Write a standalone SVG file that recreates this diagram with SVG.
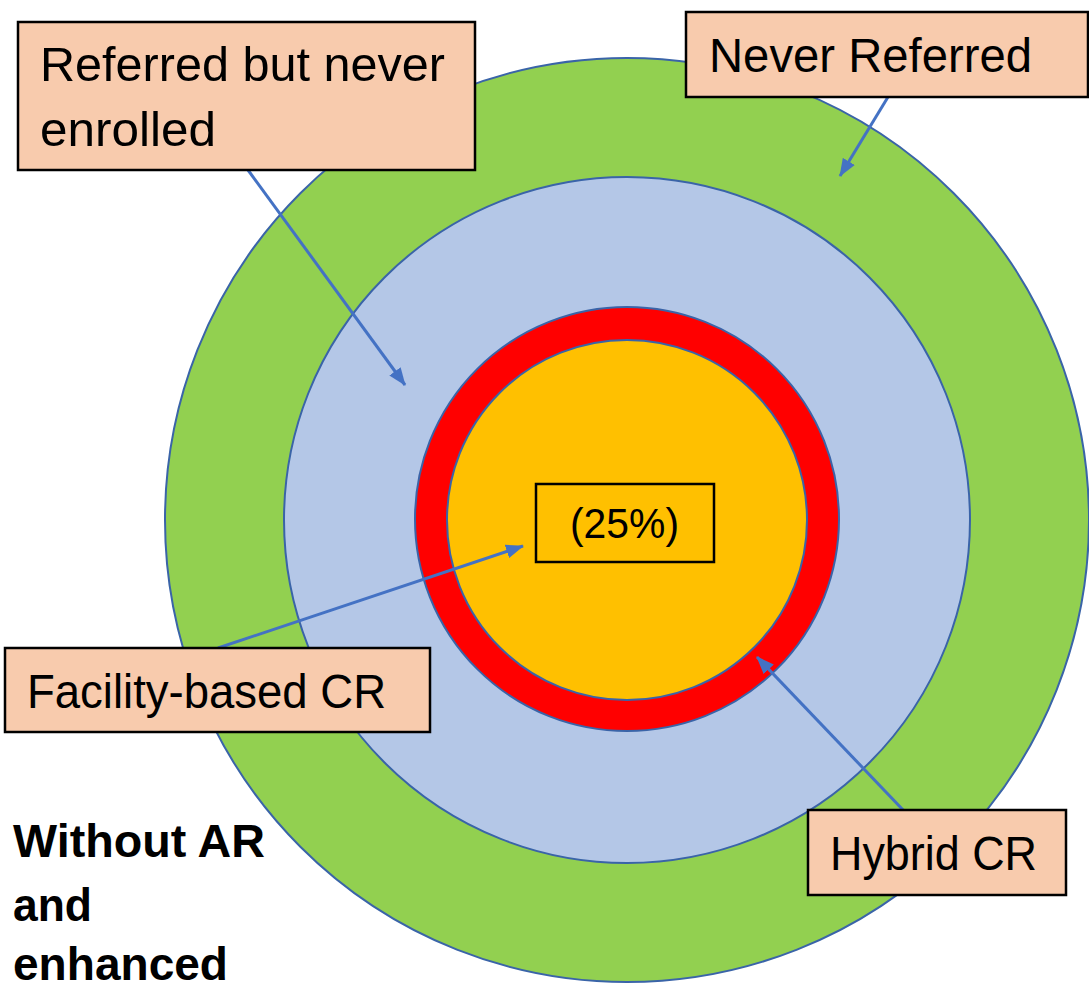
<svg xmlns="http://www.w3.org/2000/svg" width="1089" height="984" viewBox="0 0 1089 984">
<style>
.ring{stroke:#3A64A8;stroke-width:2}
.box{fill:#F8CBAD;stroke:#000;stroke-width:2.5}
.lbl{font-family:"Liberation Sans",Arial,sans-serif;font-size:48px;fill:#000}
.bold{font-family:"Liberation Sans",Arial,sans-serif;font-size:47px;font-weight:bold;fill:#000}
.arr{stroke:#4472C4;stroke-width:3;fill:none;marker-end:url(#ah)}
</style>
<defs>
<marker id="ah" markerUnits="userSpaceOnUse" markerWidth="18" markerHeight="14" refX="17" refY="7" orient="auto">
<path d="M0,0 L18,7 L0,14 z" fill="#4472C4"/>
</marker>
</defs>
<rect width="1089" height="984" fill="#fff"/>
<g id="rings">
<circle id="never-referred-ring" class="ring" cx="627" cy="520" r="462" fill="#92D050"/>
<circle id="referred-ring" class="ring" cx="627" cy="520" r="343" fill="#B4C7E7"/>
<circle id="hybrid-ring" class="ring" cx="627" cy="519" r="212" fill="#FF0000"/>
<circle id="facility-ring" class="ring" cx="627" cy="520" r="180" fill="#FFC000"/>
</g>
<g id="connectors">
<line class="arr" x1="248" y1="170" x2="405" y2="385"/>
<line class="arr" x1="888" y1="97" x2="840" y2="176"/>
<line class="arr" x1="218" y1="648" x2="523" y2="546"/>
<line class="arr" x1="905" y1="812" x2="757" y2="657"/>
</g>
<g id="pct">
<rect x="536" y="484" width="178" height="78" fill="none" stroke="#000" stroke-width="2.5"/>
<text class="lbl" x="570" y="538" style="font-size:42px" textLength="109" lengthAdjust="spacingAndGlyphs">(25%)</text>
</g>
<g id="referred-box">
<rect class="box" x="18" y="22" width="457" height="148"/>
<text class="lbl" x="40" y="81" textLength="405" lengthAdjust="spacingAndGlyphs">Referred but never</text>
<text class="lbl" x="40" y="146" textLength="176" lengthAdjust="spacingAndGlyphs">enrolled</text>
</g>
<g id="never-box">
<rect class="box" x="686" y="12" width="402" height="85"/>
<text class="lbl" x="709" y="72" textLength="323" lengthAdjust="spacingAndGlyphs">Never Referred</text>
</g>
<g id="facility-box">
<rect class="box" x="5" y="648" width="425" height="84"/>
<text class="lbl" x="27" y="708" textLength="359" lengthAdjust="spacingAndGlyphs">Facility-based CR</text>
</g>
<g id="hybrid-box">
<rect class="box" x="808" y="810" width="258" height="85"/>
<text class="lbl" x="830" y="870" textLength="207" lengthAdjust="spacingAndGlyphs">Hybrid CR</text>
</g>
<g id="caption">
<text class="bold" x="13" y="857" textLength="252" lengthAdjust="spacingAndGlyphs">Without AR</text>
<text class="bold" x="13" y="921" textLength="79" lengthAdjust="spacingAndGlyphs">and</text>
<text class="bold" x="13" y="980" textLength="215" lengthAdjust="spacingAndGlyphs">enhanced</text>
</g>
</svg>
